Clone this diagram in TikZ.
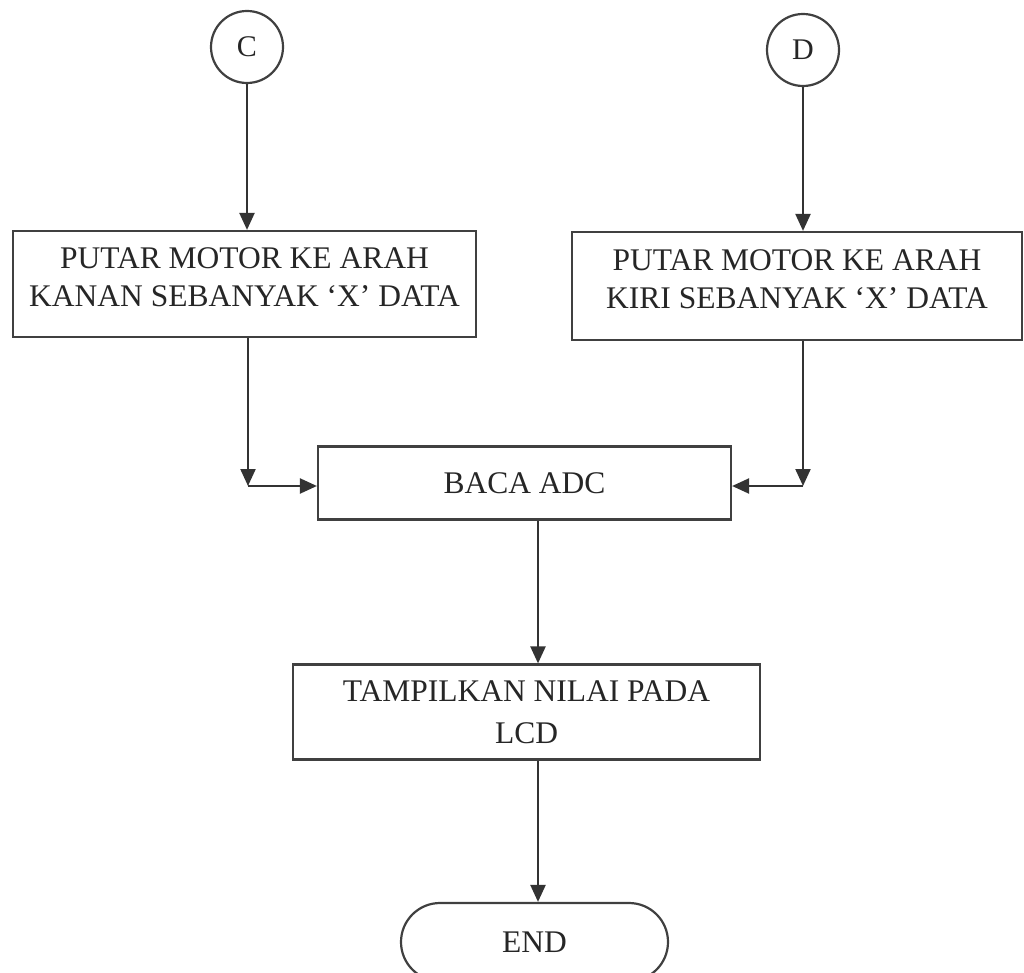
\documentclass[tikz,border=0pt]{standalone}
\usepackage{fontspec}
\setmainfont{Liberation Serif}
\usetikzlibrary{arrows.meta,shapes.misc}
\begin{document}
\begin{tikzpicture}[x=1pt,y=-1pt,
  line/.style={draw=black!80, line width=2.2pt},
  arr/.style={line, -{Triangle[length=17pt,width=15pt]}},
  txt/.style={font=\fontsize{31.5}{38}\selectfont, text=black!85},
  box/.style={txt, draw=black!75, line width=2.2pt, align=center, inner sep=0pt},
  conn/.style={circle, draw=black!75, line width=2.2pt, minimum size=72pt, inner sep=0pt,
               font=\fontsize{30}{36}\selectfont, text=black!85},
  term/.style={txt, rounded rectangle, draw=black!75, line width=2.2pt, inner sep=0pt}]
\useasboundingbox (0,0) rectangle (1024,973);

% connectors on page
\node[conn] (c) at (247,47) {C};
\node[conn] (d) at (803,50) {D};

% process steps (a short trailing line lifts the two text lines a little)
\node[box, minimum width=463pt, minimum height=106pt] (b1) at (244.5,284)
  {PUTAR MOTOR KE ARAH\\KANAN SEBANYAK `X' DATA\\[-25pt]\mbox{}};
\node[box, minimum width=450pt, minimum height=108pt] (b2) at (797,286)
  {PUTAR MOTOR KE ARAH\\KIRI SEBANYAK `X' DATA\\[-25pt]\mbox{}};
\node[box, minimum width=413pt, minimum height=73pt] (adc) at (524.5,483) {BACA ADC};
\node[box, minimum width=467pt, minimum height=95pt] (lcd) at (526.5,712)
  {TAMPILKAN NILAI PADA\\[4pt]LCD};
\node[term, minimum width=267pt, minimum height=78pt] (end) at (534.5,942) {END};

% junction points and main spine
\coordinate (jl) at (248,486);
\coordinate (jr) at (803,486);
\coordinate (sp) at (538,0);

\draw[arr] (c) -- (c |- b1.north);
\draw[arr] (d) -- (d |- b2.north);
\draw[arr] (b1.south -| jl) -- (jl);
\draw[arr] (jl) -- (jl -| adc.west);
\draw[arr] (b2.south -| jr) -- (jr);
\draw[arr] (jr) -- (jr -| adc.east);
\draw[arr] (adc.south -| sp) -- (lcd.north -| sp);
\draw[arr] (lcd.south -| sp) -- (end.north -| sp);
\end{tikzpicture}
\end{document}
